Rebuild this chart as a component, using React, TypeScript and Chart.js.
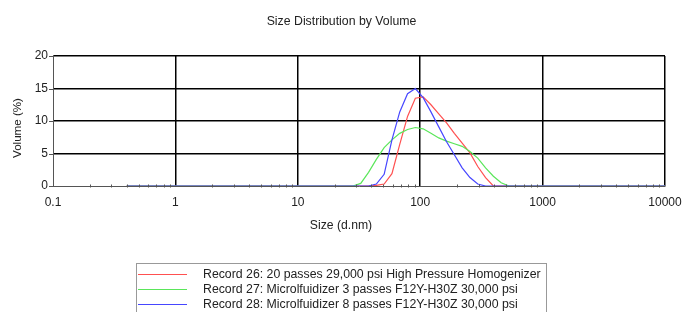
import React, { useEffect, useRef } from "react";
import { Chart, registerables } from "chart.js";

Chart.register(...registerables);

const chartTitle = "Size Distribution by Volume";
const xAxisTitle = "Size (d.nm)";
const yAxisTitle = "Volume (%)";

const sizes = [
  0.4, 0.4632, 0.5365, 0.6213, 0.7195, 0.8332, 0.9649, 1.117, 1.294, 1.499,
  1.736, 2.01, 2.328, 2.696, 3.122, 3.615, 4.187, 4.849, 5.615, 6.503,
  7.531, 8.721, 10.1, 11.7, 13.54, 15.69, 18.17, 21.04, 24.36, 28.21,
  32.67, 37.84, 43.82, 50.75, 58.77, 68.06, 78.82, 91.28, 105.7, 122.4,
  141.8, 164.2, 190.1, 220.2, 255.0, 295.3, 342.0, 396.1, 458.7, 531.2,
  615.1, 712.4, 825.0, 955.4, 1106, 1281, 1484, 1718, 1990, 2305,
  2669, 3091, 3580, 4145, 4801, 5560, 6439, 7456, 8635, 10000,
];

const record26 = [
  0, 0, 0, 0, 0, 0, 0, 0, 0, 0,
  0, 0, 0, 0, 0, 0, 0, 0, 0, 0,
  0, 0, 0, 0, 0, 0, 0, 0, 0, 0,
  0, 0, 0.1, 0.3, 1.9, 6.4, 10.7, 13.5, 13.7, 12.5,
  11.1, 9.7, 8.1, 6.6, 5.1, 3.0, 1.3, 0, 0, 0,
  0, 0, 0, 0, 0, 0, 0, 0, 0, 0,
  0, 0, 0, 0, 0, 0, 0, 0, 0, 0,
];

const record27 = [
  0, 0, 0, 0, 0, 0, 0, 0, 0, 0,
  0, 0, 0, 0, 0, 0, 0, 0, 0, 0,
  0, 0, 0, 0, 0, 0, 0, 0, 0, 0,
  0.4, 2.1, 4.1, 5.9, 7.1, 8.1, 8.7, 9.0, 8.8, 8.1,
  7.4, 6.9, 6.5, 6.1, 5.3, 4.3, 2.8, 1.5, 0.5, 0,
  0, 0, 0, 0, 0, 0, 0, 0, 0, 0,
  0, 0, 0, 0, 0, 0, 0, 0, 0, 0,
];

const record28 = [
  0, 0, 0, 0, 0, 0, 0, 0, 0, 0,
  0, 0, 0, 0, 0, 0, 0, 0, 0, 0,
  0, 0, 0, 0, 0, 0, 0, 0, 0, 0,
  0, 0, 0.3, 1.8, 7.1, 11.4, 14.2, 15.0, 13.6, 11.4,
  9.1, 6.8, 4.8, 2.8, 1.3, 0.3, 0, 0, 0, 0,
  0, 0, 0, 0, 0, 0, 0, 0, 0, 0,
  0, 0, 0, 0, 0, 0, 0, 0, 0, 0,
];

const seriesNames = [
  "Record 26: 20 passes 29,000 psi High Pressure Homogenizer",
  "Record 27: Microlfuidizer 3 passes F12Y-H30Z 30,000 psi",
  "Record 28: Microlfuidizer 8 passes F12Y-H30Z 30,000 psi",
];
const seriesColors = ["rgb(255,80,80)", "rgb(90,230,90)", "rgb(70,70,255)"];

const xTickLabels = ["0.1", "1", "10", "100", "1000", "10000"];
const yTickLabels = ["0", "5", "10", "15", "20"];

const FONT = "'Liberation Sans', Arial, sans-serif";

function isDecade(v: number) {
  const l = Math.log10(v);
  return Math.abs(l - Math.round(l)) < 1e-6;
}
function isIntegerSignificand(v: number) {
  const e = Math.floor(Math.log10(v) + 1e-9);
  const m = v / Math.pow(10, e);
  return Math.abs(m - Math.round(m)) < 1e-6;
}

const decorPlugin = {
  id: "decor",
  afterDraw(chart: any) {
    const ctx = chart.ctx;
    const xs = chart.scales.x;
    const ys = chart.scales.y;
    const area = chart.chartArea;
    ctx.save();
    ctx.strokeStyle = "#555";
    ctx.lineWidth = 1;
    // x minor ticks
    xs.ticks.forEach((t: any) => {
      if (!isDecade(t.value)) {
        const px = Math.round(xs.getPixelForValue(t.value)) + 0.5;
        ctx.beginPath();
        ctx.moveTo(px, area.bottom - 1.5);
        ctx.lineTo(px, area.bottom + 1.5);
        ctx.stroke();
      }
    });
    // y ticks
    ys.ticks.forEach((t: any) => {
      const py = Math.round(ys.getPixelForValue(t.value)) + 0.5;
      ctx.beginPath();
      if (t.value % 5 === 0) {
        ctx.moveTo(area.left - 4, py);
        ctx.lineTo(area.left, py);
      } else {
        ctx.moveTo(area.left - 1.5, py);
        ctx.lineTo(area.left + 2.5, py);
      }
      ctx.stroke();
    });
    // axis titles
    ctx.fillStyle = "#222";
    ctx.textAlign = "center";
    ctx.textBaseline = "middle";
    ctx.font = `12.2px ${FONT}`;
    ctx.fillText(xAxisTitle, 341, 226);
    ctx.save();
    ctx.font = `11.6px ${FONT}`;
    ctx.translate(18, 128);
    ctx.rotate(-Math.PI / 2);
    ctx.fillText(yAxisTitle, 0, 0);
    ctx.restore();
    // legend
    ctx.font = `12.3px ${FONT}`;
    ctx.strokeStyle = "#999";
    ctx.lineWidth = 1;
    ctx.strokeRect(136.5, 263.5, 410, 80);
    ctx.textAlign = "left";
    chart.data.datasets.forEach((ds: any, i: number) => {
      const ly = 274.5 + i * 15;
      ctx.strokeStyle = ds.borderColor;
      ctx.beginPath();
      ctx.moveTo(138, ly);
      ctx.lineTo(187, ly);
      ctx.stroke();
      ctx.fillStyle = "#222";
      ctx.fillText(ds.label, 203, ly + 0.5);
    });
    ctx.restore();
  },
};

export default function App() {
  const ref = useRef<HTMLCanvasElement | null>(null);
  useEffect(() => {
    if (!ref.current) return;
    Chart.defaults.font.family = FONT;
    Chart.defaults.font.size = 12;
    Chart.defaults.color = "#222";
    const series = [record26, record27, record28];
    const chart = new Chart(ref.current, {
      type: "line",
      data: {
        datasets: series.map((vals, i) => ({
          label: seriesNames[i],
          data: sizes.map((s, j) => ({ x: s, y: vals[j] })),
          borderColor: seriesColors[i],
          backgroundColor: seriesColors[i],
          borderWidth: 1.2,
          pointRadius: 0,
          tension: 0,
          fill: false,
          order: 2 - i,
        })),
      },
      options: {
        animation: false,
        responsive: false,
        layout: { padding: { left: 18, right: 18 } },
        plugins: {
          legend: { display: false },
          tooltip: { enabled: false },
          title: {
            display: true,
            text: chartTitle,
            color: "#222",
            font: { family: FONT, size: 12.3, weight: "normal" },
            padding: { top: 14, bottom: 27.24 },
          },
        },
        scales: {
          x: {
            type: "logarithmic",
            min: 0.1,
            max: 10000,
            afterFit: (s: any) => {
              s.height = 126;
              s.paddingRight = 0;
              s.paddingLeft = 0;
            },
            afterBuildTicks: (s: any) => {
              s.ticks = s.ticks.filter((t: any) => isIntegerSignificand(t.value));
            },
            ticks: {
              autoSkip: false,
              maxRotation: 0,
              padding: 9,
              color: "#222",
              font: { size: 12 },
              callback: (v: any) => {
                const n = Number(v);
                if (!isDecade(n)) return "";
                const idx = Math.round(Math.log10(n)) + 1;
                return xTickLabels[idx] ?? "";
              },
            },
            grid: {
              drawTicks: false,
              lineWidth: 1.5,
              color: (c: any) => {
                const v = c.tick ? c.tick.value : 0;
                if (c.index === 0) return "rgba(0,0,0,0)";
                return isDecade(v) ? "#000" : "rgba(0,0,0,0)";
              },
            },
            border: { color: "#555", width: 1 },
          },
          y: {
            min: 0,
            max: 20,
            afterFit: (s: any) => {
              s.width = 35;
            },
            ticks: {
              stepSize: 2.5,
              padding: 5,
              color: "#222",
              font: { size: 12 },
              callback: (v: any) => {
                const n = Number(v);
                if (n % 5 !== 0) return "";
                return yTickLabels[n / 5] ?? "";
              },
            },
            grid: {
              drawTicks: false,
              lineWidth: 1.5,
              color: (c: any) => {
                const v = c.tick ? c.tick.value : 0;
                if (v === 0) return "rgba(0,0,0,0)";
                return v % 5 === 0 ? "#000" : "rgba(0,0,0,0)";
              },
            },
            border: { color: "#555", width: 1 },
          },
        },
      },
      plugins: [decorPlugin],
    });
    return () => chart.destroy();
  }, []);
  return (
    <div
      style={{
        position: "fixed",
        left: 0,
        top: 0,
        width: 683,
        height: 312,
        background: "#fff",
        overflow: "hidden",
      }}
    >
      <canvas ref={ref} width={683} height={312} style={{ display: "block" }} />
    </div>
  );
}
